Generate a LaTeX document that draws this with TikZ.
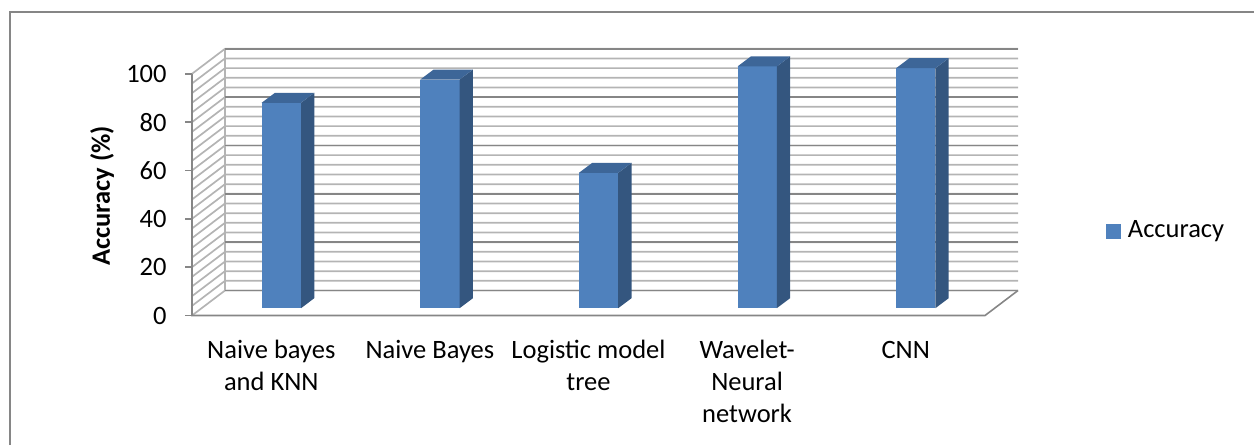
\documentclass[tikz,border=0pt]{standalone}
\usepackage{fontspec}
\setmainfont{Carlito}
\usepackage{tikz}
\definecolor{barfront}{HTML}{4F81BD}
\definecolor{barside}{HTML}{34567F}
\definecolor{bartop}{HTML}{3D6698}
\definecolor{gridmajor}{HTML}{868686}
\definecolor{gridminor}{HTML}{B4B4B4}
\newcommand{\chartfont}{\fontsize{13.25pt}{16.15pt}\selectfont}
\tikzstyle{major} = [draw=gridmajor, line width=0.8pt]
\tikzstyle{minor} = [draw=gridminor, line width=0.85pt]
\tikzstyle{catlabel} = [anchor=north, align=center, inner sep=0pt, font=\chartfont]
\tikzstyle{ticklabel} = [anchor=east, inner sep=0pt, font=\chartfont]

\begin{document}
\begin{tikzpicture}[x=0.5pt, y=0.5pt]
\useasboundingbox (0,0) rectangle (1254,445);
% frame
\draw[gridmajor, line width=0.65pt] (10,0) -- (10,433) -- (1254,433);

% walls and grid
\foreach \v in {0,4,...,100} {
  \pgfmathsetmacro{\y}{129.5+2.417*\v}
  \draw[minor] (192,\y) -- (225,\y+25) -- (1018,\y+25);
}
\draw[minor] (225,154.5) -- (225,396.2);
\foreach \v in {0,20,...,100} {
  \pgfmathsetmacro{\y}{129.5+2.417*\v}
  \draw[major] (225,\y+25) -- (1018,\y+25);
  \draw[major] (185,\y) -- (192,\y);
  \node[ticklabel] (t\v) at (167,\y) {\v};
}
\draw[major] (192,371.2) -- (192,129.5) -- (985,129.5) -- (1018,154.5);

% bars
\foreach \v [count=\i from 0] in {85,94.6,56,100,99.3} {
  \pgfmathsetmacro{\xl}{261.7+158.6*\i}
  \pgfmathsetmacro{\h}{136.8+2.417*\v}
  \fill[barfront] (\xl,136.8) rectangle (\xl+39.3,\h);
  \fill[barside] (\xl+39.3,136.8) -- (\xl+52.6,146.8) -- (\xl+52.6,\h+10) -- (\xl+39.3,\h) -- cycle;
  \fill[bartop] (\xl,\h) -- (\xl+39.3,\h) -- (\xl+52.6,\h+10) -- (\xl+13.3,\h+10) -- cycle;
}

% labels
\node[catlabel] (nbknn) at (271.3,109.9) {\strut Naive bayes\\and KNN};
\node[catlabel] (nb) at (429.9,109.9) {\strut Naive Bayes};
\node[catlabel] (lmt) at (588.5,109.9) {\strut Logistic model\\tree};
\node[catlabel] (wnn) at (747.1,109.9) {\strut Wavelet-\\Neural\\network};
\node[catlabel] (cnn) at (905.7,109.9) {\strut CNN};
\node[font=\chartfont\bfseries, rotate=90] (ytitle) at (102,249) {Accuracy (\%)};

% legend
\node[fill=barfront, minimum size=7.5pt, inner sep=0pt] (key) at (1113.5,213.5) {};
\node[anchor=base west, inner sep=0pt, font=\chartfont] (keytext) at (1127.5,207.3) {Accuracy};
\end{tikzpicture}
\end{document}
